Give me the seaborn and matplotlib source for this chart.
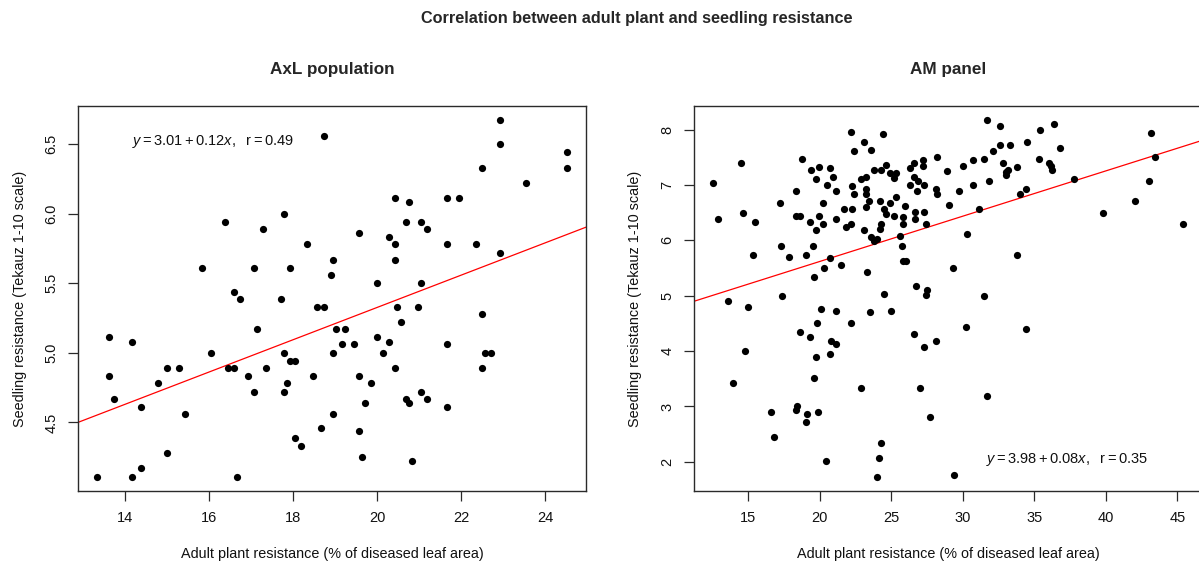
import numpy as np
import pandas as pd
import matplotlib
matplotlib.use("Agg")
import matplotlib.pyplot as plt
import seaborn as sns

# --- AxL population: adult plant vs seedling resistance ---
axl_adult = [
    15.83, 16.39, 17.29, 17.78, 17.08, 17.92, 16.60, 16.74, 17.71, 18.74,
    22.92, 22.92, 24.52, 24.52, 22.50, 23.54, 20.42, 20.76, 21.67, 21.94,
    20.68, 21.04, 21.18, 19.57, 20.27, 20.42, 21.67, 22.36, 22.92, 18.34,
    18.96, 18.89, 20.42, 20.00, 21.04, 18.58, 18.73, 20.48, 20.98, 13.61,
    14.17, 13.61, 13.75, 13.33, 14.17, 14.38, 14.38, 15.00, 14.79, 15.00,
    15.28, 15.43, 16.04, 16.46, 16.60, 16.67, 16.93, 17.08, 17.14, 17.36,
    17.78, 17.92, 18.05, 17.85, 17.78, 18.05, 18.19, 22.49, 20.57, 19.03,
    19.24, 19.99, 20.27, 19.17, 19.44, 21.67, 18.96, 20.14, 22.56, 22.71,
    20.42, 22.49, 18.47, 19.57, 19.86, 21.04, 20.68, 20.76, 21.18, 19.72,
    21.67, 18.96, 18.67, 19.57, 19.65, 20.83,
]
axl_seedling = [
    5.61, 5.94, 5.89, 6.00, 5.61, 5.61, 5.44, 5.39, 5.39, 6.56,
    6.67, 6.50, 6.44, 6.33, 6.33, 6.22, 6.11, 6.08, 6.11, 6.11,
    5.94, 5.94, 5.89, 5.86, 5.83, 5.78, 5.78, 5.78, 5.72, 5.78,
    5.67, 5.56, 5.67, 5.50, 5.50, 5.33, 5.33, 5.33, 5.33, 5.11,
    5.08, 4.83, 4.67, 4.11, 4.11, 4.17, 4.61, 4.28, 4.78, 4.89,
    4.89, 4.56, 5.00, 4.89, 4.89, 4.11, 4.83, 4.72, 5.17, 4.89,
    5.00, 4.94, 4.94, 4.78, 4.72, 4.39, 4.33, 5.28, 5.22, 5.17,
    5.17, 5.11, 5.08, 5.06, 5.06, 5.06, 5.00, 5.00, 5.00, 5.00,
    4.89, 4.89, 4.83, 4.83, 4.78, 4.72, 4.67, 4.64, 4.67, 4.64,
    4.61, 4.56, 4.46, 4.44, 4.25, 4.22,
]
axl_fit = (3.006, 0.116)   # intercept, slope
axl_r = 0.49

# --- AM panel: adult plant vs seedling resistance ---
am_adult = [
    12.51, 12.88, 14.51, 14.61, 15.47, 15.31, 13.58, 15.00, 17.38, 17.22,
    17.31, 17.82, 18.31, 18.31, 18.61, 18.77, 19.01, 19.40, 19.71, 19.94,
    19.31, 19.71, 19.94, 20.22, 20.22, 19.50, 19.59, 20.29, 20.52, 20.71,
    20.92, 21.11, 21.11, 20.71, 21.50, 21.69, 21.81, 22.20, 22.41, 22.27,
    22.41, 22.27, 22.20, 22.90, 23.20, 23.10, 23.20, 23.20, 23.20, 23.10,
    23.43, 23.29, 23.60, 23.80, 23.60, 23.80, 24.00, 24.39, 24.29, 24.60,
    24.20, 24.50, 24.60, 24.29, 24.20, 24.50, 24.88, 25.20, 24.90, 25.20,
    25.30, 25.30, 25.97, 25.79, 25.79, 25.60, 25.74, 25.79, 26.04, 26.30,
    26.30, 24.95, 20.10, 21.11, 23.48, 26.58, 27.20, 27.20, 26.60, 26.84,
    27.30, 26.79, 26.67, 26.63, 27.30, 27.40, 28.19, 28.10, 28.19, 28.90,
    29.00, 29.72, 30.00, 30.70, 30.70, 31.50, 31.66, 31.80, 31.10, 30.30,
    29.28, 26.70, 27.47, 27.40, 31.50, 32.59, 32.59, 33.31, 32.10, 32.80,
    32.99, 33.13, 33.03, 33.78, 34.50, 35.38, 36.38, 36.78, 35.29, 35.99,
    36.13, 36.22, 34.41, 33.99, 37.80, 39.80, 42.00, 43.12, 43.40, 43.00,
    45.40, 33.80, 19.82, 22.16, 18.61, 19.31, 20.78, 21.11, 20.71, 19.71,
    14.79, 13.91, 19.61, 22.90, 16.61, 18.38, 18.31, 19.10, 19.89, 19.01,
    16.80, 20.41, 24.29, 24.11, 23.99, 26.60, 27.28, 28.12, 30.21, 34.38,
    26.98, 27.70, 31.70, 29.40,
]
am_seedling = [
    7.03, 6.39, 7.39, 6.50, 6.33, 5.73, 4.90, 4.79, 5.00, 6.67,
    5.90, 5.70, 6.89, 6.44, 6.44, 7.47, 5.73, 7.28, 7.11, 7.33,
    6.33, 6.18, 6.44, 6.67, 6.29, 5.90, 5.33, 5.50, 7.00, 7.31,
    7.14, 6.89, 6.39, 5.68, 5.56, 6.56, 6.25, 7.95, 7.62, 6.98,
    6.83, 6.56, 6.29, 7.11, 7.14, 7.78, 6.93, 6.83, 6.61, 6.18,
    6.72, 5.42, 7.64, 7.27, 6.07, 5.98, 6.02, 7.92, 7.27, 7.36,
    6.72, 6.56, 6.47, 6.29, 6.21, 5.03, 7.22, 7.12, 6.67, 6.44,
    6.78, 7.22, 6.62, 6.42, 6.30, 6.08, 5.90, 5.62, 5.62, 7.31,
    7.00, 4.72, 4.76, 4.72, 4.70, 7.40, 7.46, 7.34, 7.14, 7.07,
    7.00, 6.90, 6.51, 6.39, 6.51, 6.29, 7.51, 6.93, 6.83, 7.25,
    6.64, 6.90, 7.34, 7.45, 7.00, 7.47, 8.17, 7.07, 6.57, 6.12,
    5.50, 5.17, 5.11, 5.01, 5.00, 8.07, 7.72, 7.72, 7.61, 7.39,
    7.23, 7.28, 7.18, 7.33, 7.78, 8.00, 8.11, 7.67, 7.47, 7.40,
    7.34, 7.27, 6.93, 6.83, 7.11, 6.50, 6.72, 7.94, 7.50, 7.07,
    6.29, 5.73, 4.50, 4.50, 4.34, 4.26, 4.19, 4.12, 3.94, 3.90,
    4.00, 3.43, 3.51, 3.34, 2.90, 3.00, 2.94, 2.87, 2.90, 2.72,
    2.45, 2.01, 2.34, 2.07, 1.73, 4.31, 4.07, 4.18, 4.44, 4.40,
    3.34, 2.81, 3.18, 1.76,
]
am_fit = (3.984, 0.0818)
am_r = 0.35

sns.set_theme(style="ticks")
plt.rcParams["font.family"] = ["Liberation Sans", "DejaVu Sans"]
plt.rcParams["mathtext.fontset"] = "custom"
plt.rcParams["mathtext.rm"] = "Liberation Sans"
plt.rcParams["mathtext.it"] = "Liberation Sans:italic"
plt.rcParams["axes.edgecolor"] = "#2a2a2a"
plt.rcParams["axes.linewidth"] = 1.0

W, H = 1199, 562
fig = plt.figure(figsize=(W / 100, H / 100), dpi=100)
fig.patch.set_facecolor("white")


def px_axes(left, top, right, bottom):
    return fig.add_axes([left / W, 1 - bottom / H, (right - left) / W, (bottom - top) / H])


def padded(vals, frac=0.04):
    lo, hi = min(vals), max(vals)
    span = hi - lo
    return lo - frac * span, hi + frac * span


def panel(ax, xs, ys, fit, r, title, xticks, yticks, ytick_fmt, text_xy):
    df = pd.DataFrame({"adult": xs, "seedling": ys})
    sns.scatterplot(data=df, x="adult", y="seedling", ax=ax, color="black",
                    s=27, linewidth=0, edgecolor=None, zorder=3)
    ax.set_xlim(*padded(xs))
    ax.set_ylim(*padded(ys))
    b0, b1 = fit
    ax.axline((0, b0), slope=b1, color="red", lw=0.9, zorder=2)
    ax.set_xticks(xticks)
    ax.set_yticks(yticks)
    ax.set_yticklabels([ytick_fmt.format(v) for v in yticks])
    ax.tick_params(axis="both", direction="out", length=7, width=0.9,
                   color="#2a2a2a", labelsize=10.5, labelcolor="#111111")
    ax.tick_params(axis="x", pad=7.5)
    ax.tick_params(axis="y", pad=7)
    for lab in ax.get_yticklabels():
        lab.set_rotation(90)
        lab.set_va("center")
        lab.set_ha("right")
    ax.set_xlabel("Adult plant resistance (% of diseased leaf area)",
                  fontsize=10.4, labelpad=16, color="#111111")
    ax.set_ylabel("Seedling resistance (Tekauz 1-10 scale)",
                  fontsize=10.4, labelpad=13, color="#111111")
    ax.set_title(title, fontsize=12.3, fontweight="bold", pad=23)
    for s in ax.spines.values():
        s.set_visible(True)
    label = rf"$y = {b0:.2f} + {b1:.2f}x,\ \ \mathrm{{r}} = {r:.2f}$"
    ax.text(text_xy[0], text_xy[1], label, fontsize=10.5, ha="center",
            va="center", color="#111111")


ax1 = px_axes(78, 106, 586, 491)
panel(ax1, axl_adult, axl_seedling, axl_fit, axl_r, "AxL population",
      [14, 16, 18, 20, 22, 24], [4.5, 5.0, 5.5, 6.0, 6.5], "{:.1f}", (16.1, 6.52))

ax2 = px_axes(694, 106, 1202, 491)
panel(ax2, am_adult, am_seedling, am_fit, am_r, "AM panel",
      [15, 20, 25, 30, 35, 40, 45], [2, 3, 4, 5, 6, 7, 8], "{:d}", (37.3, 2.04))

fig.text(637 / W, 1 - 18 / H, "Correlation between adult plant and seedling resistance",
         ha="center", va="center", fontsize=11.7, fontweight="bold")

fig.savefig("out.png", dpi=100, facecolor="white")
